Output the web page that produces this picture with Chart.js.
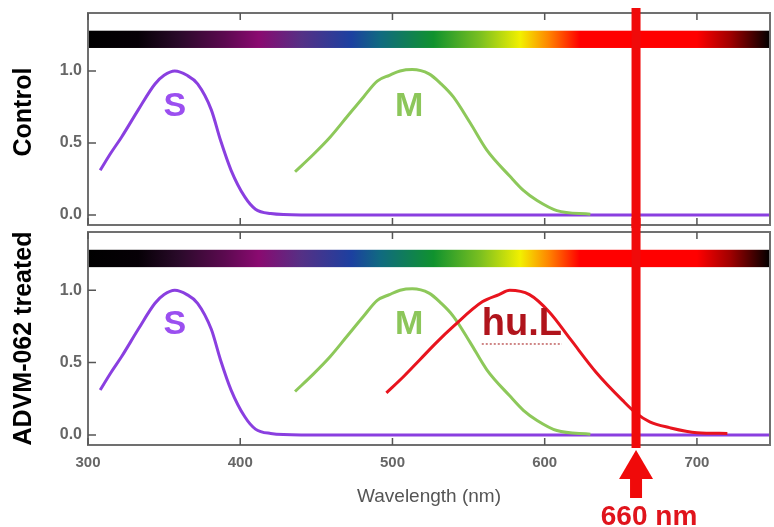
<!DOCTYPE html>
<html>
<head>
<meta charset="utf-8">
<script src="https://cdn.jsdelivr.net/npm/chart.js@4.4.1/dist/chart.umd.min.js"></script>
<style>
  html, body { margin: 0; padding: 0; background: #fff; }
  #wrap { position: relative; width: 774px; height: 527px; }
  #wrap canvas { position: absolute; left: 0; }
  #top { top: 0; }
  #bottom { top: 218px; }
</style>
</head>
<body>
<div id="wrap">
  <canvas id="top" width="774" height="228"></canvas>
  <canvas id="bottom" width="774" height="309"></canvas>
</div>
<script>
// wavelength (nm) and normalised sensitivity
const sWave = [308, 315, 322, 333, 344, 350, 357, 365, 372, 381, 387, 394, 403, 410, 420, 440, 748];
const sSens = [0.31, 0.43, 0.54, 0.73, 0.91, 0.97, 1.0, 0.97, 0.91, 0.73, 0.52, 0.31, 0.125, 0.04, 0.01, 0, 0];
const mWave = [436, 448, 459, 470, 481, 490, 498, 505, 513, 524, 532, 540, 551, 562, 577, 586, 595, 608, 630];
const mSens = [0.30, 0.42, 0.54, 0.68, 0.82, 0.93, 0.97, 1.0, 1.01, 0.98, 0.91, 0.82, 0.64, 0.45, 0.27, 0.17, 0.10, 0.03, 0.005];
const lWave = [496, 507, 518, 529, 540, 559, 570, 577, 590, 603, 617, 634, 651, 660, 669, 682, 700, 720];
const lSens = [0.29, 0.40, 0.52, 0.64, 0.75, 0.92, 0.97, 1.0, 0.97, 0.85, 0.66, 0.43, 0.24, 0.15, 0.09, 0.05, 0.015, 0.01];

const xTicks = [300, 400, 500, 600, 700];
const yTicks = [0, 0.5, 1.0];
const markWave = 660;

// visible spectrum strip across the top of each panel
const specWave = [300, 333, 360, 390, 412, 440, 473, 492, 527, 558, 584, 603, 623, 700, 722, 748];
const specColor = ['#000000', '#060006', '#2a0a2a', '#5c0a50', '#8a0a70', '#553085', '#1c40a0', '#106a80',
  '#10922e', '#7cc020', '#f2f000', '#ff8200', '#ff0000', '#ff0000', '#a00000', '#000000'];

const pts = (w, s) => w.map((v, i) => ({ x: v, y: s[i] }));

const decor = {
  id: 'decor',
  beforeDatasetsDraw(chart, args, o) {
    const { ctx, chartArea: a, scales: { x, y } } = chart;
    const x0 = x.getPixelForValue(specWave[0]);
    const x1 = x.getPixelForValue(specWave[specWave.length - 1]);
    const g = ctx.createLinearGradient(x0, 0, x1, 0);
    specWave.forEach((w, i) => g.addColorStop((x.getPixelForValue(w) - x0) / (x1 - x0), specColor[i]));
    const yt = y.getPixelForValue(1.28), yb = y.getPixelForValue(1.16);
    ctx.save();
    ctx.fillStyle = g;
    ctx.fillRect(a.left, yt, a.right - a.left, yb - yt);
    ctx.restore();
  },
  afterDatasetsDraw(chart, args, o) {
    const { ctx, chartArea: a, scales: { x, y } } = chart;
    ctx.save();
    // frame + inward ticks
    ctx.strokeStyle = '#707070';
    ctx.lineWidth = 2;
    ctx.strokeRect(a.left, a.top, a.right - a.left, a.bottom - a.top);
    ctx.strokeStyle = '#555';
    ctx.lineWidth = 1.5;
    ctx.beginPath();
    xTicks.forEach(v => {
      const px = x.getPixelForValue(v);
      ctx.moveTo(px, a.bottom); ctx.lineTo(px, a.bottom - 7);
      ctx.moveTo(px, a.top); ctx.lineTo(px, a.top + 7);
    });
    yTicks.forEach(v => {
      const py = y.getPixelForValue(v);
      ctx.moveTo(a.left, py); ctx.lineTo(a.left + 8, py);
    });
    ctx.stroke();

    // curve names
    ctx.textAlign = 'center';
    ctx.textBaseline = 'middle';
    o.labels.forEach(l => {
      const px = x.getPixelForValue(l.x), py = y.getPixelForValue(l.y);
      ctx.font = 'bold ' + l.size + 'px "Liberation Sans", Arial, sans-serif';
      ctx.fillStyle = l.color;
      ctx.fillText(l.text, px, py);
      if (l.underline) {
        const w = ctx.measureText(l.text).width;
        ctx.strokeStyle = '#c06060';
        ctx.lineWidth = 1.5;
        ctx.setLineDash([2, 2]);
        ctx.beginPath();
        ctx.moveTo(px - w / 2, py + 19); ctx.lineTo(px + w / 2, py + 19);
        ctx.stroke();
        ctx.setLineDash([]);
      }
    });

    // 660 nm marker
    const lx = x.getPixelForValue(markWave);
    ctx.fillStyle = '#f00a0a';
    ctx.fillRect(lx - 4.5, o.lineFrom, 9, o.lineTo - o.lineFrom);
    if (o.arrow) {
      const t = o.lineTo + 2;
      ctx.beginPath();
      ctx.moveTo(lx, t);
      ctx.lineTo(lx + 17, t + 29);
      ctx.lineTo(lx - 17, t + 29);
      ctx.closePath();
      ctx.fill();
      ctx.fillRect(lx - 6, t + 28, 12, 20);
      ctx.fillStyle = '#e0141c';
      ctx.font = 'bold 28px "Liberation Sans", Arial, sans-serif';
      ctx.textBaseline = 'alphabetic';
      ctx.fillText(markWave + ' nm', lx + 13, chart.height - 2);
    }
    ctx.restore();
  }
};

function panel(id, title, datasets, showX, pad, deco) {
  return new Chart(document.getElementById(id), {
    type: 'line',
    data: { datasets },
    plugins: [decor],
    options: {
      responsive: false,
      animation: false,
      devicePixelRatio: 1,
      layout: { padding: pad },
      elements: { point: { radius: 0 }, line: { borderWidth: 3, cubicInterpolationMode: 'monotone' } },
      plugins: { legend: { display: false }, tooltip: { enabled: false }, decor: deco },
      scales: {
        x: {
          type: 'linear', min: 300, max: 748,
          display: showX,
          afterBuildTicks: s => { s.ticks = xTicks.map(v => ({ value: v })); },
          afterFit: s => { s.height = showX ? 82 : 0; s.paddingLeft = 0; s.paddingRight = 0; },
          grid: { display: false, drawTicks: false },
          border: { display: false },
          ticks: { padding: 9, color: '#666', font: { size: 15, weight: 'bold', family: '"Liberation Sans", Arial' } },
          title: { display: true, text: 'Wavelength (nm)', color: '#555', padding: { bottom: 19 },
            font: { size: 19, family: '"Liberation Sans", Arial' } }
        },
        y: {
          type: 'linear', min: -0.07, max: 1.403,
          afterBuildTicks: s => { s.ticks = yTicks.map(v => ({ value: v })); },
          afterFit: s => { s.width = 88; s.paddingTop = 0; s.paddingBottom = 0; },
          grid: { display: false, drawTicks: false },
          border: { display: false },
          ticks: { padding: 6, color: '#666', callback: v => v.toFixed(1),
            font: { size: 16, weight: 'bold', family: '"Liberation Sans", Arial' } },
          title: { display: true, text: title, color: '#000', padding: { top: 9 },
            font: { size: 25, weight: 'bold', family: '"Liberation Sans", Arial' } }
        }
      }
    }
  });
}

const sSet = { data: pts(sWave, sSens), borderColor: '#8a3fe0' };
const mSet = { data: pts(mWave, mSens), borderColor: '#8dc85a' };
const lSet = { data: pts(lWave, lSens), borderColor: '#e8141e' };

panel('top', '  Control', [mSet, sSet], false, { top: 13, bottom: 3, right: 4 }, {
  lineFrom: 8, lineTo: 228, arrow: false,
  labels: [
    { text: 'S', x: 357, y: 0.75, size: 34, color: '#9b4ff0' },
    { text: 'M', x: 511, y: 0.75, size: 34, color: '#8cc65a' }
  ]
});

panel('bottom', 'ADVM-062 treated', [
  { ...lSet }, { ...mSet, data: pts(mWave, mSens) }, { ...sSet, data: pts(sWave, sSens) }
], true, { top: 14, right: 4 }, {
  lineFrom: 0, lineTo: 230, arrow: true,
  labels: [
    { text: 'S', x: 357, y: 0.76, size: 34, color: '#9b4ff0' },
    { text: 'M', x: 511, y: 0.76, size: 34, color: '#8cc65a' },
    { text: 'hu.L', x: 585, y: 0.76, size: 38, color: '#b0141c', underline: true }
  ]
});
</script>
</body>
</html>
